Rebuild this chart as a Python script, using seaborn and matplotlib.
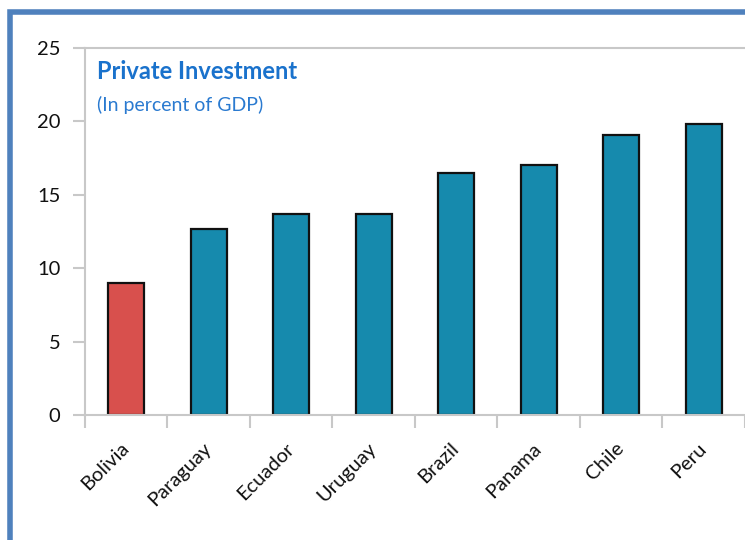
import matplotlib
matplotlib.use("Agg")
import matplotlib.pyplot as plt
import matplotlib.patches as mpatches
from matplotlib.ticker import FixedLocator
import seaborn as sns
import pandas as pd

# Private investment by country, percent of GDP
countries = ["Bolivia", "Paraguay", "Ecuador", "Uruguay", "Brazil", "Panama", "Chile", "Peru"]
values = [9.0, 12.7, 13.7, 13.7, 16.5, 17.0, 19.1, 19.8]
y_ticks = [0, 5, 10, 15, 20, 25]

RED = "#d8504d"
TEAL = "#168aad"
colors = [RED] + [TEAL] * (len(countries) - 1)

sns.set_theme(style="white")
plt.rcParams["font.family"] = ["Lato", "DejaVu Sans"]

df = pd.DataFrame({"country": countries, "value": values})

fig = plt.figure(figsize=(7.45, 5.40), dpi=100)
ax = fig.add_axes([0.114, 0.2315, 0.886, 0.6795])

sns.barplot(data=df, x="country", y="value", hue="country", palette=colors,
            order=countries, hue_order=countries, legend=False,
            width=0.44, edgecolor="#111111", linewidth=1.6, saturation=1, ax=ax)

ax.set_ylim(0, 25)
ax.set_xlim(-0.5, len(countries) - 0.5)
ax.set_yticks(y_ticks)
ax.set_xlabel("")
ax.set_ylabel("")

grey = "#c8c8c8"
for side in ["left", "bottom", "top"]:
    ax.spines[side].set_visible(True)
    ax.spines[side].set_color(grey)
    ax.spines[side].set_linewidth(1.5)
ax.spines["right"].set_visible(False)

ax.tick_params(axis="y", which="major", direction="out", length=9, width=1.5,
               color=grey, labelsize=14.5, labelcolor="#111111", pad=8.5, left=True)
# category separators under the x axis
ax.xaxis.set_minor_locator(FixedLocator([i - 0.5 for i in range(len(countries) + 1)]))
ax.tick_params(axis="x", which="minor", direction="out", length=9, width=1.5,
               color=grey, bottom=True)
ax.tick_params(axis="x", which="major", length=0, labelsize=14.5,
               labelcolor="#111111", pad=22)
for lbl in ax.get_xticklabels():
    lbl.set_rotation(45)
    lbl.set_ha("right")
    lbl.set_va("center")
    lbl.set_rotation_mode("anchor")

ax.text(0.018, 0.935, "Private Investment", transform=ax.transAxes,
        fontsize=17, fontweight="bold", color="#1a72cc", ha="left", va="center")
ax.text(0.018, 0.845, "(In percent of GDP)", transform=ax.transAxes,
        fontsize=14, color="#2a7ad0", ha="left", va="center")

# blue frame around the panel
frame = mpatches.Rectangle((9.5 / 745, -0.05), 1.2, 1 - 11.5 / 540 + 0.05,
                           transform=fig.transFigure, fill=False,
                           edgecolor="#4f81bd", linewidth=4, clip_on=False)
fig.patches.append(frame)

fig.savefig("out.png", dpi=100)
